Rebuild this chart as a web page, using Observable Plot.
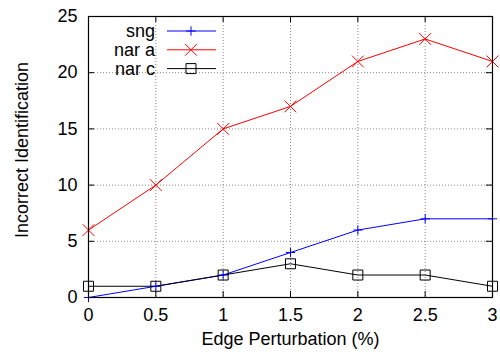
<!DOCTYPE html>
<html><head><meta charset="utf-8">
<script src="https://cdn.jsdelivr.net/npm/d3@7"></script>
<script src="https://cdn.jsdelivr.net/npm/@observablehq/plot@0.6"></script>
<style>body{margin:0;background:#fff} svg{display:block}</style>
</head><body><div id="chart"></div>
<script>
const perturbation = [0, 0.5, 1, 1.5, 2, 2.5, 3];
const sng = [0, 1, 2, 4, 6, 7, 7];
const narA = [6, 10, 15, 17, 21, 23, 21];
const narC = [1, 1, 2, 3, 2, 2, 1];
const seriesNames = ["sng", "nar a", "nar c"];
const seriesColors = ["#0000ff", "#ff0000", "#000000"];
const seriesSymbols = ["plus", "times", "square"];
const xTicks = [0, 0.5, 1, 1.5, 2, 2.5, 3];
const yTicks = [0, 5, 10, 15, 20, 25];
const xLabel = "Edge Perturbation (%)";
const yLabel = "Incorrect Identification";

const values = [sng, narA, narC];
const rows = [];
seriesNames.forEach((s, i) => perturbation.forEach((x, j) => rows.push({series: s, x, y: values[i][j]})));

const W = 500, H = 356;
const mL = 88, mR = 8, mT = 16, mB = 59;
const pw = W - mL - mR, ph = H - mT - mB;
const font = "'Liberation Sans', Arial, Helvetica, sans-serif";
const FS = 18;
// marker sizes (Plot dot radius) per series
const markerR = [3.1, 5.4, 5.64];

const chart = Plot.plot({
  width: W, height: H,
  marginLeft: mL, marginRight: mR, marginTop: mT, marginBottom: mB,
  style: {fontFamily: font, fontSize: FS + "px", background: "#fff", color: "#000"},
  x: {domain: [0, 3], axis: null},
  y: {domain: [0, 25], axis: null},
  color: {domain: seriesNames, range: seriesColors},
  symbol: {domain: seriesNames, range: seriesSymbols},
  marks: [
    Plot.ruleX(xTicks, {stroke: "#888", strokeDasharray: "1,2", strokeWidth: 1}),
    Plot.ruleY(yTicks, {stroke: "#888", strokeDasharray: "1,2", strokeWidth: 1}),
    Plot.ruleX(xTicks, {stroke: "#000", insetTop: ph - 6}),
    Plot.ruleX(xTicks, {stroke: "#000", insetBottom: ph - 6}),
    Plot.ruleY(yTicks, {stroke: "#000", insetRight: pw - 6}),
    Plot.ruleY(yTicks, {stroke: "#000", insetLeft: pw - 6}),
    Plot.axisX({ticks: xTicks, tickSize: 0, tickPadding: 11, label: null, tickFormat: d => String(d), fontSize: FS}),
    Plot.axisY({ticks: yTicks, tickSize: 0, tickPadding: 11, label: null, fontSize: FS}),
    Plot.line(rows, {x: "x", y: "y", z: "series", stroke: "series", strokeWidth: 1}),
    ...seriesNames.map((s, i) => Plot.dot(rows.filter(d => d.series === s), {x: "x", y: "y", symbol: "series", stroke: "series", fill: "none", r: markerR[i], strokeWidth: 1})),
    Plot.frame({stroke: "#000", strokeWidth: 1.2}),
    Plot.text([xLabel], {frameAnchor: "bottom", dy: 47, fontSize: FS}),
    Plot.text([yLabel], {frameAnchor: "left", textAnchor: "middle", rotate: -90, dx: -66, dy: -7, fontSize: FS})
  ]
});

// Legend (inside top-left of the frame)
const svg = d3.select(chart);
const lg = svg.append("g").attr("font-family", font).attr("font-size", FS);
const symGen = {plus: d3.symbolPlus, times: d3.symbolTimes, square: d3.symbolSquare};
seriesNames.forEach((s, i) => {
  const y = mT + 15 + i * 18.8;
  lg.append("text").attr("x", 155).attr("y", y).attr("text-anchor", "end").attr("dy", "0.35em").text(s);
  lg.append("line").attr("x1", 167).attr("x2", 216).attr("y1", y).attr("y2", y).attr("stroke", seriesColors[i]).attr("stroke-width", 1);
  lg.append("path").attr("transform", `translate(191,${y})`)
    .attr("d", d3.symbol(symGen[seriesSymbols[i]], Math.PI * markerR[i] * markerR[i])())
    .attr("fill", "none").attr("stroke", seriesColors[i]).attr("stroke-width", 1);
});

document.getElementById("chart").appendChild(chart);
</script>
</body></html>
